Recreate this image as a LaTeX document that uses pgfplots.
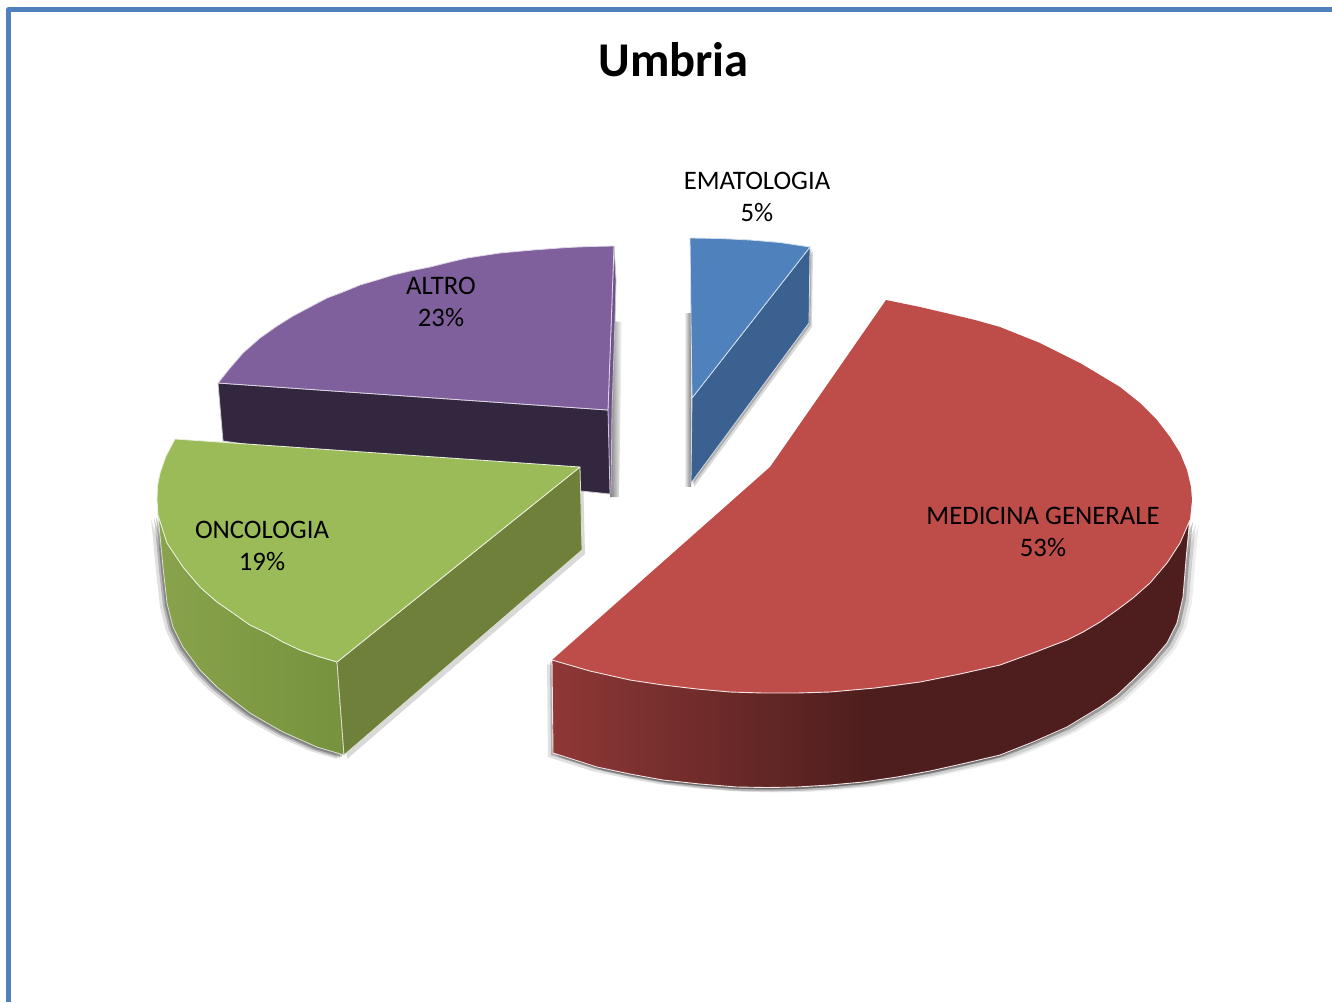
\documentclass[border=0pt]{standalone}
\usepackage{pgfplots}
\pgfplotsset{compat=1.18}
\usepackage{pgfplotstable}
\usepackage{fontspec}
\setmainfont{Carlito}
\definecolor{frameblue}{RGB}{79,129,189}
\definecolor{redtop}{RGB}{190,77,74}
\definecolor{redsideA}{RGB}{142,56,54}
\definecolor{redsideB}{RGB}{77,30,29}
\definecolor{greentop}{RGB}{155,187,89}
\definecolor{greensideA}{RGB}{136,163,75}
\definecolor{greensideB}{RGB}{118,146,60}
\definecolor{greendark}{RGB}{110,128,58}
\definecolor{purpletop}{RGB}{127,96,156}
\definecolor{purpleside}{RGB}{110,82,140}
\definecolor{purpledark}{RGB}{51,39,63}
\definecolor{bluetop}{RGB}{79,129,189}
\definecolor{blueside}{RGB}{58,97,143}

% outlines in reference pixels, y downwards
\pgfplotstableread{
x y
552 660
590 671
630 680
663 685
697 689
730 692
763 693
797 693
830 692
875 688
920 682
960 674
1000 665
1033 653
1067 640
1083 632
1100 622
1117 610
1133 598
1150 583
1167 563
1180 543
1190 520
1189 527
1186 560
1183 597
1177 623
1167 643
1150 663
1133 680
1117 695
1100 707
1067 727
1033 742
1000 755
966 763
930 771
897 777
863 782
830 785
797 787
767 787.5
737 787
700 784
663 780
630 774
597 767
575 760
553 753
552 660
}\redside
\pgfplotstableread{
x y
886 300
920 307
950 314
975 320
1000 327
1020 335
1040 343
1060 353
1080 363
1100 375
1120 387
1140 403
1157 420
1170 437
1180 453
1187 470
1191 487
1192 500
1190 520
1180 543
1167 563
1150 583
1133 598
1117 610
1100 622
1083 632
1067 640
1033 653
1000 665
960 674
920 682
875 688
830 692
797 693
763 693
730 692
697 689
663 685
630 680
590 671
552 660
770 467
}\redface
\pgfplotstableread{
x y
158 515
167 543
183 567
200 587
217 602
233 613
250 625
267 633
283 642
300 650
317 656
337 662
344 755
317 747
283 732
267 723
250 713
233 700
217 687
200 670
183 647
173 627
167 603
163 567
160 535
}\greenside
\pgfplotstableread{
x y
175 439
580 467
337 662
317 656
300 650
283 642
267 633
250 625
233 613
217 602
200 587
183 567
167 543
158 515
157 500
157.5 486
160 473
166 456
}\greenface
\pgfplotstableread{
x y
580 467
582 550
344 755
337 662
}\greenwedge
\pgfplotstableread{
x y
218 383
230 368
243 353
260 338
277 326
293 316
310 307
327 298
343 292
360 285
377 280
393 275
410 271
430 267
450 262
467 258
500 253
533 250
567 247.5
590 246.5
614 246
608 410
}\purpleface
\pgfplotstableread{
x y
218 383
608 410
610 494
581 491
223 441
}\purplewall
\pgfplotstableread{
x y
614 246
616 280
615 320
612 410
611 493
608 493
608 410
}\purplestrip
\pgfplotstableread{
x y
690 238
720 238.5
750 240
780 242.5
810 247
692 398
}\blueface
\pgfplotstableread{
x y
810 247
809 323
691 483
692 398
}\bluewall

\begin{document}
\begin{tikzpicture}
\begin{axis}[scale only axis,width=1332pt,height=1002pt,
  xmin=0,xmax=1332,ymin=0,ymax=1002,y dir=reverse,hide axis,
  every axis plot/.append style={forget plot}]

% keeps the whole axis box in the page
\addplot[draw=none] coordinates {(0,0)(1332,1002)};

% frame
\addplot[frameblue,line width=5pt,line join=round] coordinates {(8.5,1002)(8.5,9.5)(1332,9.5)};

% soft shadows
\addplot[draw=none,fill=black,opacity=.12,xshift=-5pt,yshift=-4pt] table {\redside} -- cycle;
\addplot[draw=none,fill=black,opacity=.22,xshift=-2pt,yshift=-2pt] table {\redside} -- cycle;
\addplot[draw=none,fill=black,opacity=.07,xshift=9pt,yshift=-5pt] table {\redside} -- cycle;
\addplot[draw=none,fill=black,opacity=.12,xshift=6pt,yshift=-4pt] table {\redside} -- cycle;
\addplot[draw=none,fill=black,opacity=.25,xshift=3pt,yshift=-2pt] table {\redside} -- cycle;
\addplot[draw=none,fill=black,opacity=.12,xshift=-7pt,yshift=-4pt] table {\greenside} -- cycle;
\addplot[draw=none,fill=black,opacity=.2,xshift=-4pt,yshift=-3pt] table {\greenside} -- cycle;
\addplot[draw=none,fill=black,opacity=.25,xshift=-2pt,yshift=-2pt] table {\greenside} -- cycle;
\addplot[draw=none,fill=black,opacity=.15,xshift=3pt,yshift=-4pt] table {\greenwedge} -- cycle;
\addplot[draw=none,left color=white,right color=black!50] coordinates {(684,313)(691,313)(691,486)(684,486)} -- cycle;
\addplot[draw=none,fill=black,opacity=.15,xshift=3pt,yshift=-4pt] table {\bluewall} -- cycle;
\addplot[draw=none,fill=black,opacity=.2,xshift=1.5pt,yshift=-2pt] table {\bluewall} -- cycle;
\addplot[draw=none,left color=black!50,right color=white] coordinates {(610,321)(622,322)(619,497)(610,497)} -- cycle;

% purple slice
\addplot[draw=white!70!purpledark,line width=.8pt,fill=purpleside] table {\purplestrip} -- cycle;
\addplot[draw=white!75!purpledark,line width=.8pt,fill=purpledark] table {\purplewall} -- cycle;
\addplot[draw=white!75!purpletop,line width=.8pt,fill=purpletop,line join=round] table {\purpleface} -- cycle;

% blue slice
\addplot[draw=white!75!blueside,line width=.8pt,fill=blueside] table {\bluewall} -- cycle;
\addplot[draw=white!75!bluetop,line width=.8pt,fill=bluetop,line join=round] table {\blueface} -- cycle;

% red slice
\addplot[draw=none,left color=redsideA,right color=redsideB,middle color=redsideB] table {\redside} -- cycle;
\addplot[draw=none,fill=redtop] table {\redface} -- cycle;
\addplot[white!85!redtop,line width=.9pt,line join=round] table {\redside};

% green slice
\addplot[draw=white!75!greendark,line width=.8pt,left color=greensideA,right color=greensideB,line join=round] table {\greenside} -- cycle;
\addplot[draw=white!75!greendark,line width=.8pt,fill=greendark,line join=round] table {\greenwedge} -- cycle;
\addplot[draw=white!80!greentop,line width=.8pt,fill=greentop,line join=round] table {\greenface} -- cycle;

\node[font=\fontsize{48.5}{54}\selectfont\bfseries] at (axis cs:673.5,60) {Umbria};
\node[font=\fontsize{26.7}{32}\selectfont,align=center] at (axis cs:757,197) {EMATOLOGIA\\5\%};
\node[font=\fontsize{26.7}{32}\selectfont,align=center] at (axis cs:441,302) {ALTRO\\23\%};
\node[font=\fontsize{26.7}{32}\selectfont,align=center] at (axis cs:262,546) {ONCOLOGIA\\19\%};
\node[font=\fontsize{26.7}{32}\selectfont,align=center] at (axis cs:1043,532) {MEDICINA GENERALE\\53\%};
\end{axis}
\end{tikzpicture}
\end{document}
